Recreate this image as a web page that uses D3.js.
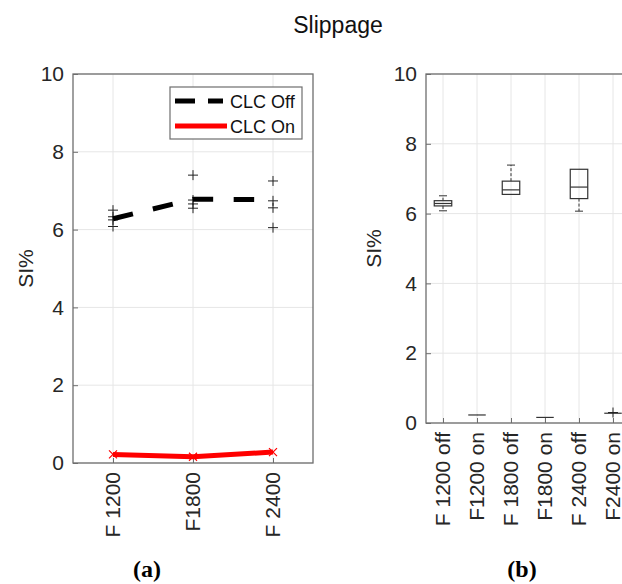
<!DOCTYPE html>
<html>
<head>
<meta charset="utf-8">
<script src="https://cdn.jsdelivr.net/npm/d3@7"></script>
<style>
  body { margin: 0; background: #fff; }
  svg { display: block; font-family: "Liberation Sans", Arial, sans-serif; }
</style>
</head>
<body>
<div id="chart"></div>
<script>
// ---- data ----
var feeds = ["F 1200", "F1800", "F 2400"];
var clcOff = [6.28, 6.78, 6.77];          // mean line
var clcOn = [0.22, 0.16, 0.28];
var offSamples = [
  [6.08, 6.25, 6.33, 6.5],
  [6.55, 6.66, 6.76, 7.4],
  [6.05, 6.56, 6.74, 7.25]
];

var boxCats = ["F 1200 off", "F1200 on", "F 1800 off", "F1800 on", "F 2400 off", "F2400 on"];
var boxLow  = [6.08, 0.23, 6.55, 0.16, 6.07, 0.28];
var boxQ1   = [6.22, 0.23, 6.55, 0.16, 6.43, 0.28];
var boxMed  = [6.29, 0.23, 6.68, 0.16, 6.76, 0.28];
var boxQ3   = [6.37, 0.23, 6.93, 0.16, 7.27, 0.28];
var boxHigh = [6.51, 0.23, 7.39, 0.16, 7.27, 0.28];
var boxOutliers = [[], [], [], [], [], [0.3]];

var yTicks = [0, 2, 4, 6, 8, 10];

var W = 622, H = 584;
var svg = d3.select("#chart").append("svg")
  .attr("width", W).attr("height", H);

var axisColor = "#6e6e6e", gridColor = "#e6e6e6", textColor = "#262626";
var tickFont = 21;

svg.append("text")
  .attr("x", 338).attr("y", 33)
  .attr("text-anchor", "middle")
  .attr("font-size", 23).attr("fill", "#111")
  .text("Slippage");

function plus(g, cx, cy, s) {
  g.append("path")
    .attr("d", "M" + (cx - s) + "," + cy + "H" + (cx + s) + "M" + cx + "," + (cy - s) + "V" + (cy + s))
    .attr("stroke", "#222").attr("stroke-width", 1).attr("fill", "none");
}

function frame(g, x, y, x0, x1, y0, y1, cats, labelX) {
  // grid
  g.selectAll("line.vg").data(cats).enter().append("line")
    .attr("x1", function(d, i) { return x(i + 1); })
    .attr("x2", function(d, i) { return x(i + 1); })
    .attr("y1", y0).attr("y2", y1)
    .attr("stroke", gridColor);
  g.selectAll("line.hg").data(yTicks).enter().append("line")
    .attr("x1", x0).attr("x2", x1)
    .attr("y1", function(d) { return y(d); })
    .attr("y2", function(d) { return y(d); })
    .attr("stroke", gridColor);

  // y axis
  var ya = g.append("g").attr("transform", "translate(" + x0 + ",0)")
    .call(d3.axisLeft(y).tickValues(yTicks).tickSizeInner(-5).tickSizeOuter(0).tickPadding(9));
  ya.select(".domain").remove();
  ya.selectAll("line").attr("stroke", axisColor);
  ya.selectAll("text").attr("font-size", tickFont).attr("fill", textColor)
    .attr("font-family", "Liberation Sans, Arial, sans-serif");

  var xa = g.append("g").attr("transform", "translate(0," + y0 + ")")
    .call(d3.axisBottom(x).tickValues(cats.map(function(d, i) { return i + 1; }))
      .tickFormat(function(d) { return cats[d - 1]; })
      .tickSizeInner(-5).tickSizeOuter(0).tickPadding(0));
  xa.select(".domain").remove();
  xa.selectAll("line").attr("stroke", axisColor);
  xa.selectAll("text")
    .attr("font-size", tickFont).attr("fill", textColor)
    .attr("font-family", "Liberation Sans, Arial, sans-serif")
    .attr("text-anchor", "end")
    .attr("dy", null)
    .attr("transform", "translate(6,9) rotate(-90)");

  // box
  g.append("rect")
    .attr("x", x0).attr("y", y1)
    .attr("width", x1 - x0).attr("height", y0 - y1)
    .attr("fill", "none").attr("stroke", axisColor).attr("stroke-width", 1.3);

  // y label
  g.append("text")
    .attr("transform", "translate(" + labelX + "," + ((y0 + y1) / 2) + ") rotate(-90)")
    .attr("text-anchor", "middle")
    .attr("font-size", 21).attr("fill", textColor)
    .text("SI%");
}

// ---- panel (a) ----
var ax0 = 73, ax1 = 313, ay0 = 463, ay1 = 74;
var xa = d3.scaleLinear().domain([0.5, 3.5]).range([ax0, ax1]);
var ya = d3.scaleLinear().domain([0, 10]).range([ay0, ay1]);
var ga = svg.append("g");
frame(ga, xa, ya, ax0, ax1, ay0, ay1, feeds, 33);

var line = d3.line()
  .x(function(d, i) { return xa(i + 1); })
  .y(function(d) { return ya(d); });

offSamples.forEach(function(s, i) {
  s.forEach(function(v) { plus(ga, xa(i + 1), ya(v), 5); });
});

ga.append("path").datum(clcOff)
  .attr("d", line)
  .attr("fill", "none").attr("stroke", "#000")
  .attr("stroke-width", 5).attr("stroke-dasharray", "20.5,20.5");

ga.append("path").datum(clcOn)
  .attr("d", line)
  .attr("fill", "none").attr("stroke", "#ff0000")
  .attr("stroke-width", 5).attr("stroke-linejoin", "round");

clcOn.forEach(function(v, i) {
  var cx = xa(i + 1), cy = ya(v), s = 4;
  ga.append("path")
    .attr("d", "M" + (cx - s) + "," + (cy - s) + "L" + (cx + s) + "," + (cy + s) +
               "M" + (cx - s) + "," + (cy + s) + "L" + (cx + s) + "," + (cy - s))
    .attr("stroke", "#ff0000").attr("stroke-width", 1.2);
});

// legend
var lg = ga.append("g").attr("transform", "translate(170,87)");
lg.append("rect").attr("width", 132).attr("height", 52)
  .attr("fill", "#fff").attr("stroke", axisColor).attr("stroke-width", 1.2);
lg.append("line").attr("x1", 5).attr("x2", 53).attr("y1", 14).attr("y2", 14)
  .attr("stroke", "#000").attr("stroke-width", 5).attr("stroke-dasharray", "20,13");
lg.append("line").attr("x1", 5).attr("x2", 57).attr("y1", 39).attr("y2", 39)
  .attr("stroke", "#ff0000").attr("stroke-width", 5);
lg.append("text").attr("x", 60).attr("y", 21).attr("font-size", 18).attr("fill", "#111").text("CLC Off");
lg.append("text").attr("x", 60).attr("y", 46).attr("font-size", 18).attr("fill", "#111").text("CLC On");

// ---- panel (b) ----
var bx0 = 426, bx1 = 630, by0 = 423, by1 = 74;
var xb = d3.scaleLinear().domain([0.5, 6.5]).range([bx0, bx1]);
var yb = d3.scaleLinear().domain([0, 10]).range([by0, by1]);
var gb = svg.append("g");
frame(gb, xb, yb, bx0, bx1, by0, by1, boxCats, 381);

var bw = 17.5, cw = 8;
boxCats.forEach(function(c, i) {
  var cx = xb(i + 1);
  // whiskers
  gb.append("line").attr("x1", cx).attr("x2", cx)
    .attr("y1", yb(boxQ3[i])).attr("y2", yb(boxHigh[i]))
    .attr("stroke", "#333").attr("stroke-dasharray", "3,2");
  gb.append("line").attr("x1", cx).attr("x2", cx)
    .attr("y1", yb(boxQ1[i])).attr("y2", yb(boxLow[i]))
    .attr("stroke", "#333").attr("stroke-dasharray", "3,2");
  if (boxHigh[i] > boxQ3[i])
    gb.append("line").attr("x1", cx - cw / 2).attr("x2", cx + cw / 2)
      .attr("y1", yb(boxHigh[i])).attr("y2", yb(boxHigh[i])).attr("stroke", "#333");
  if (boxLow[i] < boxQ1[i])
    gb.append("line").attr("x1", cx - cw / 2).attr("x2", cx + cw / 2)
      .attr("y1", yb(boxLow[i])).attr("y2", yb(boxLow[i])).attr("stroke", "#333");
  gb.append("rect")
    .attr("x", cx - bw / 2).attr("y", yb(boxQ3[i]))
    .attr("width", bw).attr("height", Math.max(0, yb(boxQ1[i]) - yb(boxQ3[i])))
    .attr("fill", "none").attr("stroke", "#333").attr("stroke-width", 1.2);
  gb.append("line").attr("x1", cx - bw / 2).attr("x2", cx + bw / 2)
    .attr("y1", yb(boxMed[i])).attr("y2", yb(boxMed[i]))
    .attr("stroke", "#333").attr("stroke-width", 1.2);
  boxOutliers[i].forEach(function(v) { plus(gb, cx, yb(v), 5); });
});

// panel captions
svg.append("text").attr("x", 147).attr("y", 577)
  .attr("text-anchor", "middle").attr("font-size", 24).attr("font-weight", "bold")
  .attr("font-family", "Liberation Serif, serif").attr("fill", "#000").text("(a)");
svg.append("text").attr("x", 522).attr("y", 577)
  .attr("text-anchor", "middle").attr("font-size", 24).attr("font-weight", "bold")
  .attr("font-family", "Liberation Serif, serif").attr("fill", "#000").text("(b)");
</script>
</body>
</html>
